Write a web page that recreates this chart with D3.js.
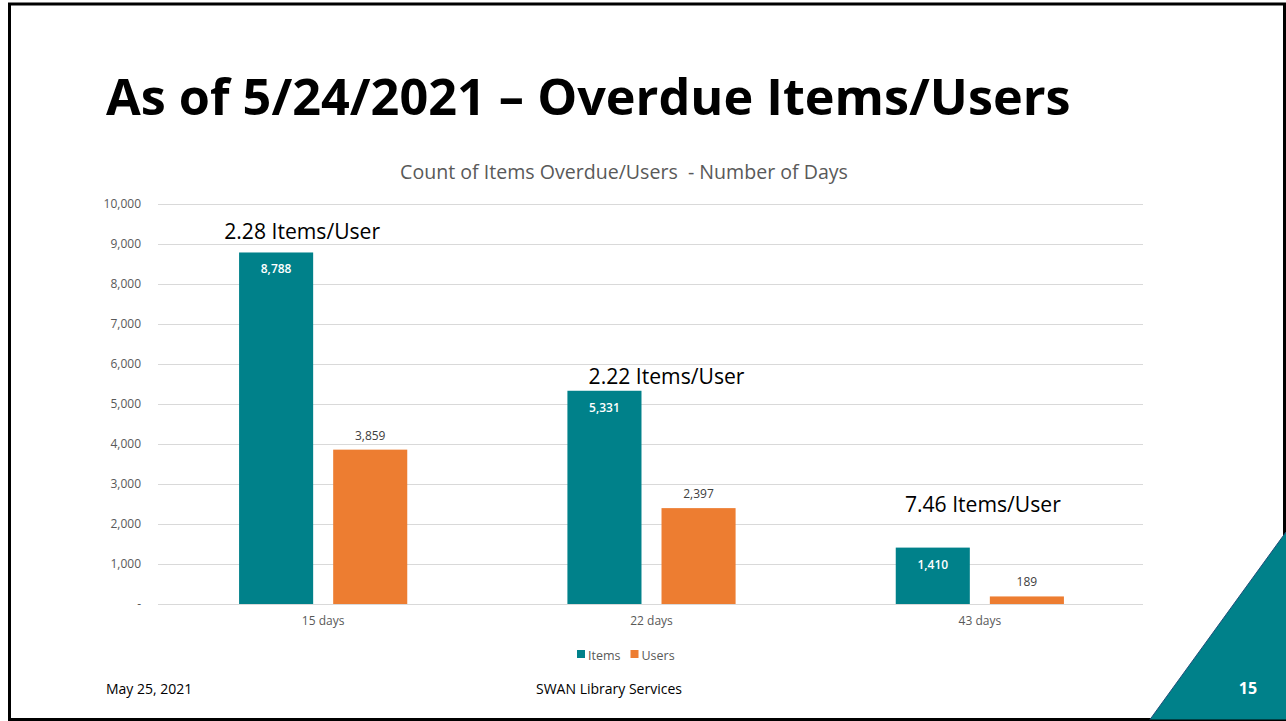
<!DOCTYPE html>
<html>
<head>
<meta charset="utf-8">
<script src="https://cdn.jsdelivr.net/npm/d3@7"></script>
<style>
  html, body { margin: 0; padding: 0; background: #fff; }
  svg { display: block; }
  text { white-space: pre; }
</style>
</head>
<body>
<svg id="slide" width="1286" height="721" font-family="Open Sans, Noto Sans, sans-serif"></svg>
<script>
// Overdue counts by age bucket
const categories = ["15 days", "22 days", "43 days"];
const seriesNames = ["Items", "Users"];
const items = [8788, 5331, 1410];
const users = [3859, 2397, 189];
const yTicks = [0, 1000, 2000, 3000, 4000, 5000, 6000, 7000, 8000, 9000, 10000];

const colors = { Items: "#00818A", Users: "#ED7D31" };
const values = { Items: items, Users: users };

const svg = d3.select("#slide");
const W = 1286, H = 721;

// scale a text element's font size so it spans the given width
function fitWidth(sel, base, width) {
  const w = sel.node().getComputedTextLength();
  sel.attr("font-size", base * width / w);
}

// slide frame
svg.append("rect").attr("x", 9.5).attr("y", 4).attr("width", W - 11).attr("height", H - 5.5)
  .attr("fill", "#fff").attr("stroke", "#000").attr("stroke-width", 3);

// slide title
const title = svg.append("text")
  .attr("x", 106).attr("y", 115)
  .attr("font-size", 52).attr("font-weight", 700).attr("fill", "#000")
  .text("As of 5/24/2021 \u2013 Overdue Items/Users");
fitWidth(title, 52, 965);

// plot area
const plot = { left: 158, right: 1143, top: 204, bottom: 604 };

const x0 = d3.scaleBand().domain(categories).range([plot.left + 1, plot.right + 1]).paddingInner(0).paddingOuter(0);
const x1 = d3.scaleBand().domain(seriesNames).range([0, x0.bandwidth()])
  .paddingInner(0.2128).paddingOuter(0.851);
const y = d3.scaleLinear().domain([0, 10000]).range([plot.bottom, plot.top]);

// chart title
const chartTitle = svg.append("text")
  .attr("x", 624).attr("y", 179).attr("text-anchor", "middle")
  .attr("font-size", 18.5).attr("fill", "#595959")
  .text("Count of Items Overdue/Users  - Number of Days");
fitWidth(chartTitle, 18.5, 448);

// gridlines + y axis labels
const yAxis = d3.axisLeft(y).tickValues(yTicks)
  .tickSize(-(plot.right - plot.left)).tickPadding(17)
  .tickFormat(d => d === 0 ? "-" : d3.format(",")(d));
const gy = svg.append("g").attr("transform", `translate(${plot.left},0)`).call(yAxis);
gy.select(".domain").remove();
gy.selectAll(".tick line").attr("stroke", "#d9d9d9").attr("stroke-width", 1);
gy.selectAll(".tick text").attr("fill", "#595959").attr("font-size", 12)
  .attr("font-family", "Open Sans, sans-serif");

// x axis labels
const xAxis = d3.axisBottom(x0).tickSize(0).tickPadding(12);
const gx = svg.append("g").attr("transform", `translate(0,${plot.bottom})`).call(xAxis);
gx.select(".domain").remove();
gx.selectAll(".tick text").attr("fill", "#595959").attr("font-size", 12)
  .attr("font-family", "Open Sans, sans-serif");

// bars
const groups = svg.append("g").selectAll("g").data(categories).join("g")
  .attr("transform", d => `translate(${x0(d)},0)`);

groups.each(function (cat, i) {
  const g = d3.select(this);
  seriesNames.forEach(s => {
    const v = values[s][i];
    g.append("rect")
      .attr("x", x1(s)).attr("width", x1.bandwidth())
      .attr("y", y(v)).attr("height", y(0) - y(v))
      .attr("fill", colors[s]);
    const label = g.append("text")
      .attr("x", x1(s) + x1.bandwidth() / 2)
      .attr("text-anchor", "middle").attr("font-size", 12)
      .text(d3.format(",")(v));
    if (s === "Items") {
      label.attr("y", y(v) + 21).attr("fill", "#fff").attr("font-weight", 600);
    } else {
      label.attr("y", y(v) - 10).attr("fill", "#404040");
    }
  });
});

// items-per-user annotations
const annoDx = [-21, 15, 3];
const annoDy = [13, 7, 36];
categories.forEach((c, i) => {
  const t = svg.append("text")
    .attr("x", x0(c) + x0.bandwidth() / 2 + annoDx[i])
    .attr("y", y(items[i]) - annoDy[i])
    .attr("text-anchor", "middle").attr("font-size", 20).attr("fill", "#000")
    .text(d3.format(".2f")(items[i] / users[i]) + " Items/User");
  fitWidth(t, 20, 156);
});

// legend
const legend = svg.append("g").attr("transform", "translate(577,655)");
let lx = 0;
seriesNames.forEach(s => {
  legend.append("rect").attr("x", lx).attr("y", -5).attr("width", 8).attr("height", 8).attr("fill", colors[s]);
  const t = legend.append("text").attr("x", lx + 11).attr("y", 4.5)
    .attr("font-size", 12.5).attr("fill", "#595959").text(s);
  lx += 11 + t.node().getComputedTextLength() + 10;
});

// footer
svg.append("text").attr("x", 106).attr("y", 694).attr("font-size", 14).attr("fill", "#000").text("May 25, 2021");
svg.append("text").attr("x", 609).attr("y", 694).attr("text-anchor", "middle")
  .attr("font-size", 14).attr("fill", "#000").text("SWAN Library Services");

// corner triangle
svg.append("path")
  .attr("d", `M1150,${H - 1.5} L${W},532 L${W},${H - 1.5} Z`)
  .attr("fill", "#00818A");
svg.append("line").attr("x1", 1150).attr("y1", H - 1.5).attr("x2", W).attr("y2", 532)
  .attr("stroke", "#1f4e79").attr("stroke-width", 1);
svg.append("text").attr("x", 1248).attr("y", 694).attr("text-anchor", "middle")
  .attr("font-size", 16).attr("font-weight", 700).attr("fill", "#fff").text("15");
</script>
</body>
</html>
